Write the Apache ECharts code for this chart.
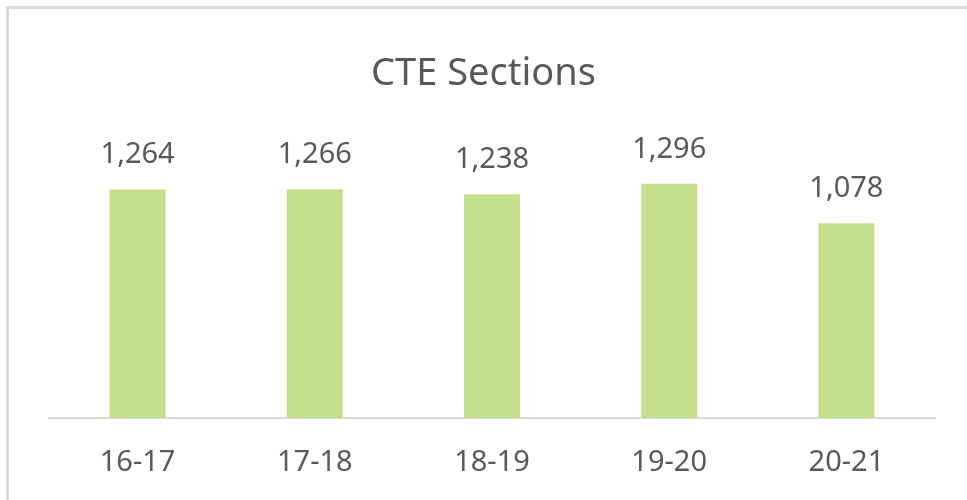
<!DOCTYPE html>
<html>
<head>
<meta charset="utf-8">
<script src="https://cdn.jsdelivr.net/npm/echarts@6/dist/echarts.min.js"></script>
<style>
  html, body { margin: 0; padding: 0; background: #fff; }
  #main { width: 967px; height: 500px; }
</style>
</head>
<body>
<div id="main"></div>
<script>
// chart data
var years = ['16-17', '17-18', '18-19', '19-20', '20-21'];
var sections = [1264, 1266, 1238, 1296, 1078];

var myChart = echarts.init(document.getElementById('main'));
var font = '"Noto Sans", "Open Sans", sans-serif';

var option = {
    backgroundColor: '#ffffff',
    title: {
        text: 'CTE Sections',
        left: 'center',
        top: 50,
        textStyle: {
            fontFamily: font,
            fontSize: 38,
            fontWeight: 'normal',
            color: '#595959'
        }
    },
    graphic: [{
        type: 'rect',
        shape: { x: 7.5, y: 7.5, width: 1100, height: 800 },
        style: { fill: 'none', stroke: '#d9d9d9', lineWidth: 3 },
        silent: true
    }],
    grid: {
        left: 49,
        right: 32,
        top: 165,
        bottom: 82
    },
    xAxis: {
        type: 'category',
        data: years,
        axisLine: { lineStyle: { color: '#d9d9d9', width: 2 } },
        axisTick: { show: false },
        axisLabel: {
            margin: 30,
            fontFamily: font,
            fontSize: 29,
            color: '#595959'
        }
    },
    yAxis: {
        type: 'value',
        min: 0,
        max: 1400,
        show: false,
        splitLine: { show: false }
    },
    series: [{
        name: 'CTE Sections',
        type: 'bar',
        data: sections,
        barWidth: '31.6%',
        itemStyle: { color: '#c5e08b' },
        label: {
            show: true,
            position: 'top',
            distance: 20,
            fontFamily: font,
            fontSize: 29,
            color: '#595959',
            formatter: function(p) {
                return p.value.toLocaleString('en-US');
            }
        }
    }]
};

myChart.setOption(option);
</script>
</body>
</html>
